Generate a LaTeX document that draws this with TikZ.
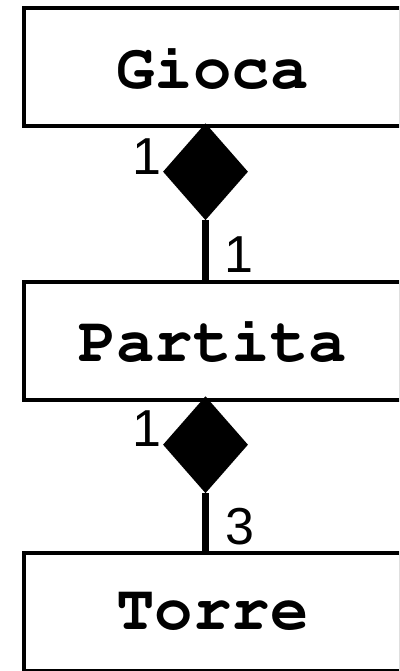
\documentclass[tikz,border=0pt]{standalone}
\usepackage[T1]{fontenc}
\usepackage{fontspec}
\usetikzlibrary{shapes.geometric}
\newfontfamily\cardfont{Liberation Sans}
\newcommand\classfont{\fontencoding{T1}\fontfamily{pcr}\fontseries{b}\selectfont}
\begin{document}
\begin{tikzpicture}[x=1pt,y=-1pt,
  classbox/.style={draw=black, line width=4pt, fill=white, inner sep=0pt,
    minimum width=377pt, minimum height=118pt,
    font=\classfont\fontsize{64}{64}\selectfont},
  compo/.style={diamond, fill=black, draw=none, inner sep=0pt,
    minimum width=85pt, minimum height=97pt, anchor=north},
  link/.style={line width=6.5pt},
  mult/.style={inner sep=0pt, font=\cardfont\fontsize{52}{52}\selectfont}]
\useasboundingbox (0,0) rectangle (399,671);
\clip (0,0) rectangle (399,671);
\fill[white] (0,0) rectangle (399,671);

% classes
\node[classbox] (gioca)   at (212.5, 67.5) {Gioca};
\node[classbox] (partita) at (212.5, 340.5) {Partita};
\node[classbox] (torre)   at (212.5, 612) {Torre};

% composition Gioca -- Partita
\node[compo] (d1) at (205.5, 123) {};
\draw[link] (d1.south) -- (d1.south |- partita.north);
\node[mult] (m1a) at (146.5, 156.5) {1};
\node[mult] (m1b) at (238.5, 254.5) {1};

% composition Partita -- Torre
\node[compo] (d2) at (205.5, 396) {};
\draw[link] (d2.south) -- (d2.south |- torre.north);
\node[mult] (m2a) at (146.5, 428.5) {1};
\node[mult] (m2b) at (239.5, 526.5) {3};
\end{tikzpicture}
\end{document}
